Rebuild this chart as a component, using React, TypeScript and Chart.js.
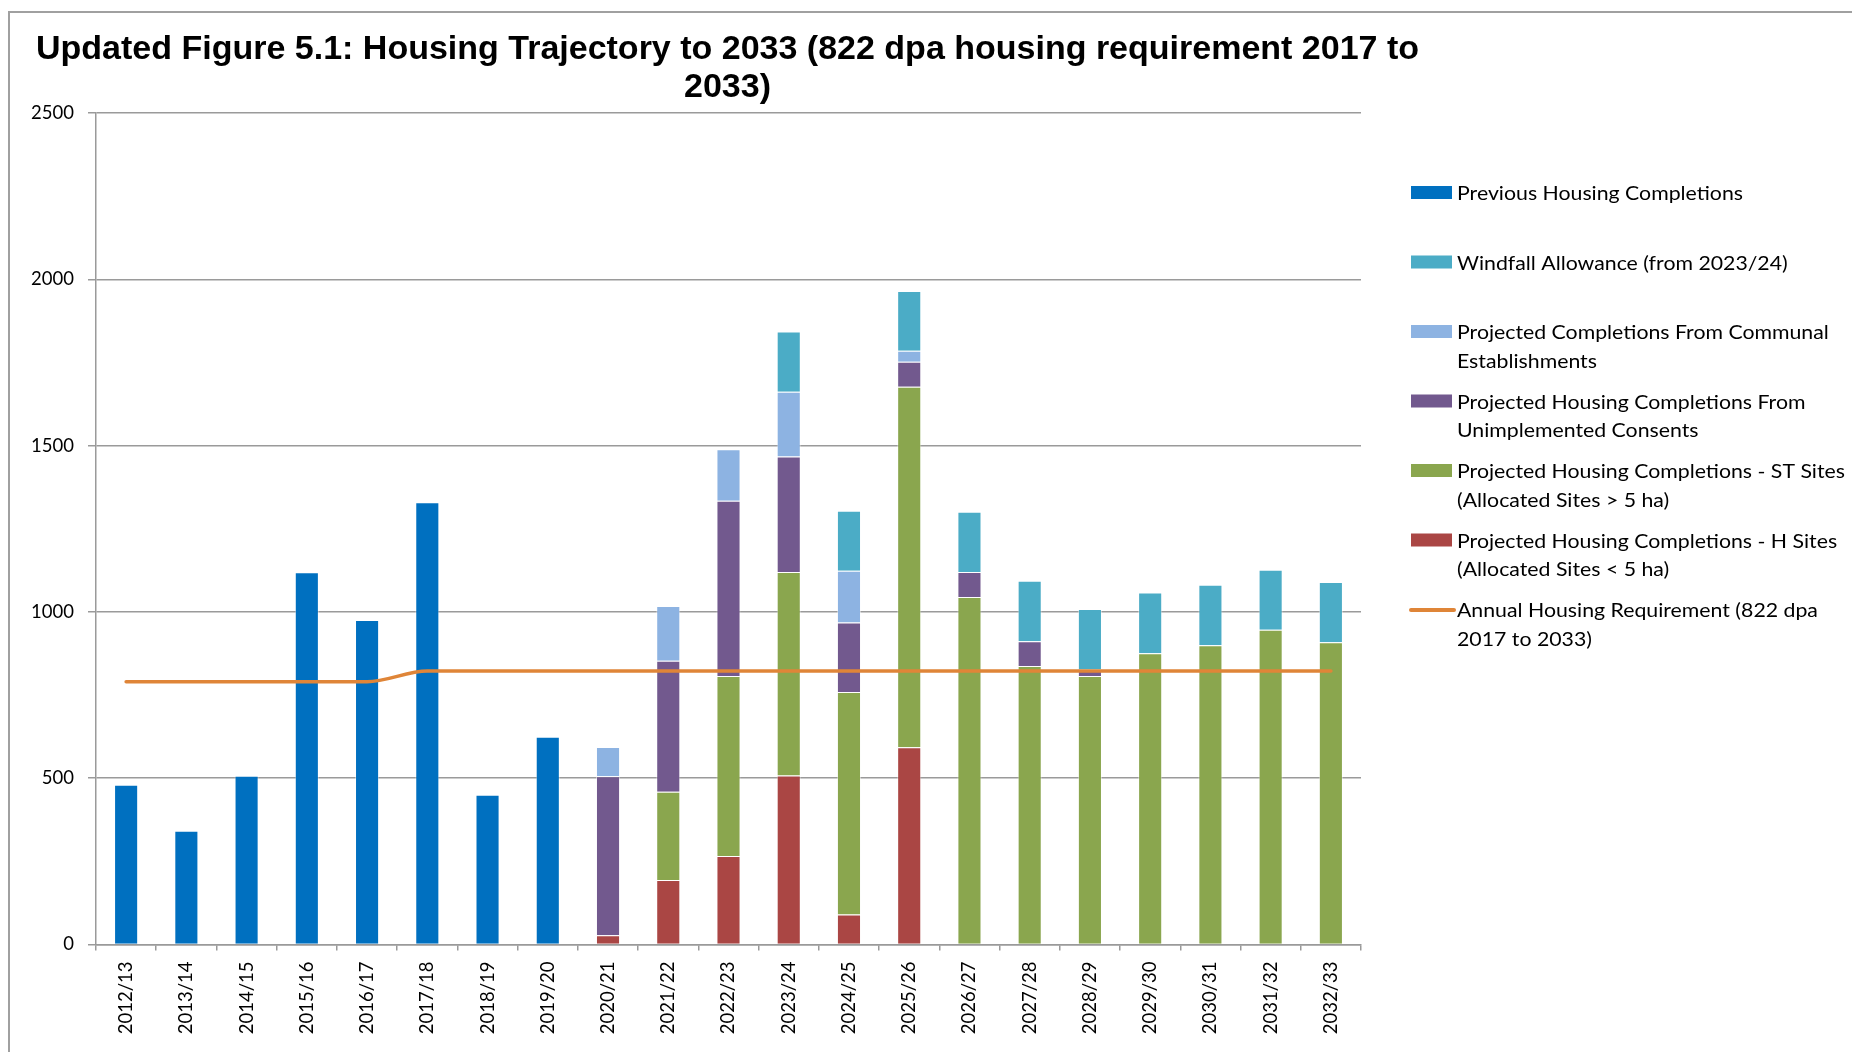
import React, { useEffect, useRef } from 'react';
import { Chart, registerables } from 'chart.js';

Chart.register(...registerables);

const categories = [
  '2012/13', '2013/14', '2014/15', '2015/16', '2016/17', '2017/18', '2018/19',
  '2019/20', '2020/21', '2021/22', '2022/23', '2023/24', '2024/25', '2025/26',
  '2026/27', '2027/28', '2028/29', '2029/30', '2030/31', '2031/32', '2032/33',
];

const previousCompletions = [480, 342, 507, 1119, 976, 1330, 450, 625, null, null, null, null, null, null, null, null, null, null, null, null, null];
const hSites = [null, null, null, null, null, null, null, null, 28, 194, 266, 508, 90, 593, null, null, null, null, null, null, null];
const stSites = [null, null, null, null, null, null, null, null, null, 265, 541, 612, 669, 1084, 1045, 837, 807, 876, 900, 946, 909];
const unimplemented = [null, null, null, null, null, null, null, null, 478, 394, 527, 347, 209, 75, 75, 75, 20, null, null, null, null];
const communal = [null, null, null, null, null, null, null, null, 88, 165, 155, 195, 156, 33, null, null, null, null, null, null, null];
const windfall = [null, null, null, null, null, null, null, null, null, null, null, 181, 180, 180, 181, 182, 182, 182, 182, 181, 181];
const requirement = [790, 790, 790, 790, 790, 822, 822, 822, 822, 822, 822, 822, 822, 822, 822, 822, 822, 822, 822, 822, 822];

const yMin = 0;
const yMax = 2500;
const yStep = 500;

const titleLines = [
  'Updated Figure 5.1: Housing Trajectory to 2033 (822 dpa housing requirement 2017 to',
  '2033)',
];

const seriesNames = [
  'Previous Housing Completions',
  'Windfall Allowance (from 2023/24)',
  'Projected Completions From Communal Establishments',
  'Projected Housing Completions From Unimplemented Consents',
  'Projected Housing Completions - ST Sites (Allocated Sites > 5 ha)',
  'Projected Housing Completions - H Sites (Allocated Sites < 5 ha)',
  'Annual Housing Requirement (822 dpa 2017 to 2033)',
];

const legendLines = [
  ['Previous Housing Completions'],
  ['Windfall Allowance (from 2023/24)'],
  ['Projected Completions From Communal', 'Establishments'],
  ['Projected Housing Completions From', 'Unimplemented Consents'],
  ['Projected Housing Completions - ST Sites', '(Allocated Sites > 5 ha)'],
  ['Projected Housing Completions - H Sites', '(Allocated Sites < 5 ha)'],
  ['Annual Housing Requirement (822 dpa', '2017 to 2033)'],
];

const COLORS = {
  previous: '#0070C0',
  windfall: '#4BACC6',
  communal: '#8DB3E2',
  unimplemented: '#72598E',
  st: '#8AA64E',
  h: '#AA4644',
  line: '#DF8538',
};
const GRID = '#9a9a9a';
const FONT = 'Lato';

const borderPlugin = {
  id: 'outerBorder',
  beforeDraw(chart: any) {
    const ctx = chart.ctx;
    ctx.save();
    ctx.strokeStyle = '#a0a0a0';
    ctx.lineWidth = 2;
    ctx.beginPath();
    ctx.moveTo(9, chart.height);
    ctx.lineTo(9, 12);
    ctx.lineTo(chart.width, 12);
    ctx.stroke();
    ctx.restore();
  },
};

const titlePlugin = {
  id: 'chartTitle',
  afterDraw(chart: any) {
    const ctx = chart.ctx;
    const area = chart.chartArea;
    const cx = (area.left + area.right) / 2;
    ctx.save();
    ctx.fillStyle = '#000';
    ctx.font = 'bold 34px "Liberation Sans"';
    ctx.textAlign = 'center';
    ctx.textBaseline = 'alphabetic';
    titleLines.forEach((ln, i) => {
      ctx.fillText(ln, cx - 1, 59 + i * 38);
    });
    ctx.restore();
  },
};

const legendPlugin = {
  id: 'customLegend',
  afterDraw(chart: any) {
    const ctx = chart.ctx;
    const area = chart.chartArea;
    const ds = chart.data.datasets;
    // legend order -> dataset index
    const order = [5, 4, 3, 2, 1, 0, 6];
    const swX = area.right + 50;
    const swW = 41;
    const swH = 13;
    const textX = swX + swW + 5;
    const firstBase = area.top + 87;
    const pitch = 69.5;
    const lineGap = 28.5;
    ctx.save();
    ctx.font = `18.5px ${FONT}`;
    ctx.textBaseline = 'alphabetic';
    ctx.textAlign = 'left';
    order.forEach((di, i) => {
      const d = ds[di];
      const base = firstBase + i * pitch;
      if (d.type === 'line') {
        ctx.strokeStyle = d.borderColor;
        ctx.lineWidth = 4;
        ctx.lineCap = 'round';
        ctx.beginPath();
        ctx.moveTo(swX, base - 7);
        ctx.lineTo(swX + swW + 2, base - 7);
        ctx.stroke();
      } else {
        ctx.fillStyle = d.backgroundColor;
        ctx.fillRect(swX, base - swH - 1, swW, swH);
      }
      ctx.fillStyle = '#000';
      legendLines[i].forEach((ln, j) => {
        ctx.save();
        ctx.translate(textX, base + j * lineGap);
        ctx.scale(1.15, 1);
        ctx.fillText(ln, 0, 0);
        ctx.restore();
      });
    });
    ctx.restore();
  },
};

export default function App() {
  const ref = useRef<HTMLCanvasElement>(null);
  useEffect(() => {
    document.body.style.margin = '0';
    Chart.defaults.font.family = FONT;
    const canvas = ref.current!;
    const barCommon = {
      type: 'bar' as const,
      stack: 'main',
      order: 1,
      borderWidth: 1,
      borderColor: 'rgba(255,255,255,0.45)',
      barPercentage: 0.4,
      categoryPercentage: 1,
    };
    const chart = new Chart(canvas, {
      type: 'bar',
      data: {
        labels: categories,
        datasets: [
          { ...barCommon, label: seriesNames[5], data: hSites, backgroundColor: COLORS.h },
          { ...barCommon, label: seriesNames[4], data: stSites, backgroundColor: COLORS.st },
          { ...barCommon, label: seriesNames[3], data: unimplemented, backgroundColor: COLORS.unimplemented },
          { ...barCommon, label: seriesNames[2], data: communal, backgroundColor: COLORS.communal },
          { ...barCommon, label: seriesNames[1], data: windfall, backgroundColor: COLORS.windfall },
          { ...barCommon, label: seriesNames[0], data: previousCompletions, backgroundColor: COLORS.previous },
          {
            type: 'line',
            label: seriesNames[6],
            data: requirement,
            borderColor: COLORS.line,
            backgroundColor: COLORS.line,
            borderWidth: 3.5,
            pointRadius: 0,
            cubicInterpolationMode: 'monotone',
            borderCapStyle: 'round',
            fill: false,
            stack: 'req',
            order: 0,
          } as any,
        ],
      },
      options: {
        responsive: false,
        animation: false,
        devicePixelRatio: 1,
        layout: { padding: { left: 0, top: 113, right: 491, bottom: 0 } },
        plugins: {
          legend: { display: false },
          tooltip: { enabled: false },
          title: { display: false },
        },
        scales: {
          x: {
            stacked: true,
            offset: true,
            grid: {
              display: true,
              drawOnChartArea: false,
              drawTicks: true,
              tickLength: 6,
              color: GRID,
              lineWidth: 1.5,
              offset: true,
            },
            border: { display: true, color: GRID, width: 1.5 },
            ticks: {
              autoSkip: false,
              minRotation: 90,
              maxRotation: 90,
              padding: 11,
              color: '#000',
              font: { family: FONT, size: 18.5 },
            },
            afterFit: (s: any) => { s.height = 107.5; },
          },
          y: {
            stacked: true,
            min: yMin,
            max: yMax,
            ticks: {
              stepSize: yStep,
              padding: 14,
              color: '#000',
              font: { family: FONT, size: 18.5 },
              callback: (v: any) => String(v),
            },
            grid: { color: GRID, lineWidth: 1.5, tickLength: 8 },
            border: { display: true, color: GRID, width: 1.5 },
            afterFit: (s: any) => { s.width = 96; },
          },
        },
      },
      plugins: [borderPlugin, titlePlugin, legendPlugin],
    } as any);
    return () => chart.destroy();
  }, []);
  return <canvas ref={ref} width={1852} height={1052} style={{ display: 'block' }} />;
}
